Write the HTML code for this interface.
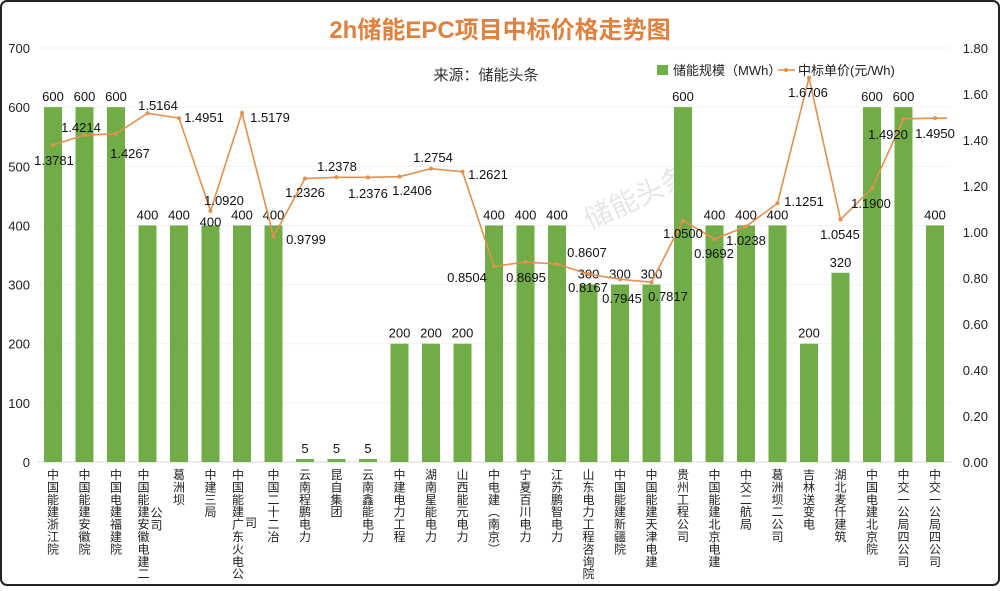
<!DOCTYPE html>
<html><head><meta charset="utf-8"><style>
body{margin:0;background:#fff;}
svg text{font-family:"Liberation Sans","Noto Sans CJK SC",sans-serif;}
</style></head><body>
<svg width="1000" height="586" viewBox="0 0 1000 586" xmlns="http://www.w3.org/2000/svg">
<rect x="1" y="1" width="998" height="584" rx="6" fill="#fff" stroke="#222" stroke-width="2"/>
<text x="500" y="38" text-anchor="middle" font-size="24" font-weight="bold" fill="#e0823f">2h储能EPC项目中标价格走势图</text>
<text x="486" y="80" text-anchor="middle" font-size="15" fill="#333">来源：储能头条</text>
<text x="590" y="230" font-size="28" fill="#e6e6e6" transform="rotate(-25 590 230)">储能头条</text>
<rect x="657" y="65" width="11" height="10" fill="#70ad47"/>
<text x="673" y="75" font-size="13" fill="#222">储能规模（MWh）</text>
<line x1="778" y1="70" x2="795" y2="70" stroke="#e0914f" stroke-width="1.5"/>
<circle cx="786" cy="70" r="2" fill="#e0914f"/>
<text x="798" y="75" font-size="13" fill="#222">中标单价(元/Wh)</text>
</svg>
<script>
var N="http://www.w3.org/2000/svg";
var svg=document.querySelector('svg');
function el(t,a,txt){var e=document.createElementNS(N,t);for(var k in a)e.setAttribute(k,a[k]);if(txt!=null)e.textContent=txt;svg.appendChild(e);return e;}
var y0=462;
for(var i=0;i<=7;i++){var y=y0-i*59.14;el('text',{x:30,y:y+5,'font-size':13,fill:'#222','text-anchor':'end'},i*100);
if(i>0)el('line',{x1:40,x2:950,y1:y,y2:y,stroke:'#f2f2f2'});}
for(var i=0;i<=9;i++){var y=y0-i*46;el('text',{x:988,y:y+5,'font-size':13,fill:'#222','text-anchor':'end'},(i*0.2).toFixed(2));}
el('line',{x1:38,x2:952,y1:y0,y2:y0,stroke:'#d9d9d9'});
var d=[["中国能建浙江院",600,1.3781,54,160],["中国能建安徽院",600,1.4214,81,127],["中国电建福建院",600,1.4267,130,153],["中国能建安徽电建二|公司",400,1.5164,158,105],["葛洲坝",400,1.4951,204,117],["中建三局",400,1.0920,224,200],["中国能建广东火电公|司",400,1.5179,270,117],["中国二十二冶",400,0.9799,306,239],["云南程鹏电力",5,1.2326,305,192],["昆自集团",5,1.2378,337,166],["云南鑫能电力",5,1.2376,368,193],["中建电力工程",200,1.2406,412,190],["湖南星能电力",200,1.2754,433,157],["山西能元电力",200,1.2621,488,174],["中电建︵南京︶",400,0.8504,467,277],["宁夏百川电力",400,0.8695,526,277],["江苏鹏智电力",400,0.8607,587,252],["山东电力工程咨询院",300,0.8167,588,287],["中国能建新疆院",300,0.7945,622,298],["中国能建天津电建",300,0.7817,668,296],["贵州工程公司",600,1.0500,683,233],["中国能建北京电建",400,0.9692,714,253],["中交二航局",400,1.0238,746,240],["葛洲坝二公司",400,1.1251,804,201],["吉林送变电",200,1.6706,808,92],["湖北麦仟建筑",320,1.0545,840,234],["中国电建北京院",600,1.1900,871,203],["中交一公局四公司",600,1.4920,888,134],["中交一公局四公司",400,1.4950,935,133]];
var pts=[];
d.forEach(function(r,i){var cx=53+i*31.5;var h=r[1]*0.5914;
el('rect',{x:cx-9,y:y0-h,width:18,height:h,fill:'#70ad47'});
el('text',{x:cx,y:y0-h-6+(i==5?7:0),'font-size':13,fill:'#111','text-anchor':'middle'},r[1]);
pts.push(cx+','+(y0-r[2]*230));
var parts=r[0].split('|');
parts.forEach(function(p,j){p.split('').forEach(function(c,k){
var px=cx+(j==0?(parts.length>1?-4:0):9);
var py=479+k*12.4+(j==1?(i==3?38:48):0);
el('text',{x:px,y:py,'font-size':12,fill:'#222','text-anchor':'middle'},c);});});
});
var last=pts[pts.length-1].split(',');
el('polyline',{points:pts.join(' ')+' '+(+last[0]+12)+','+last[1],fill:'none',stroke:'#e0914f','stroke-width':1.6});
pts.forEach(function(p){var a=p.split(',');el('circle',{cx:a[0],cy:a[1],r:2,fill:'#e0914f'});});
d.forEach(function(r){el('text',{x:r[3],y:r[4]+5,'font-size':13,fill:'#111','text-anchor':'middle'},r[2].toFixed(4));});
</script>
</body></html>
